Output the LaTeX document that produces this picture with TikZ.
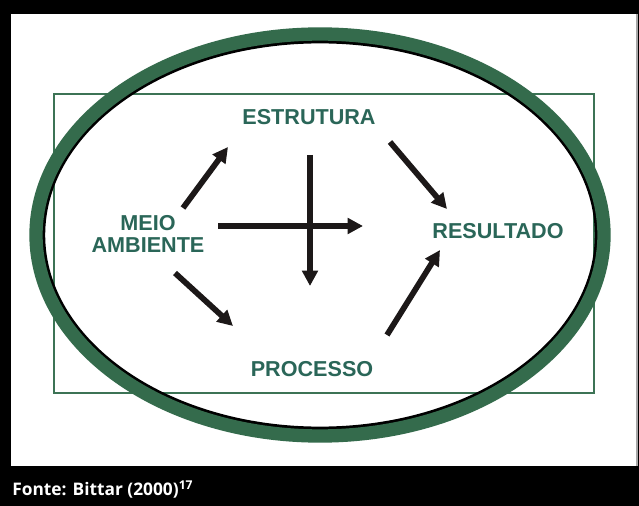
\documentclass[tikz,border=0pt]{standalone}
\usepackage{fontspec}
\setmainfont{Liberation Sans}
\newfontfamily\footfont{Open Sans}
\usetikzlibrary{arrows.meta}
\definecolor{ringgreen}{RGB}{52,107,76}
\definecolor{boxgreen}{RGB}{60,115,85}
\definecolor{labelteal}{RGB}{42,102,88}
\definecolor{arrowblack}{RGB}{28,24,24}
\tikzset{
  lbl/.style={font=\fontsize{16.2}{18.5}\selectfont\bfseries, text=labelteal, align=center, inner sep=0pt},
  flow/.style={draw=arrowblack, line width=4.3pt, -{Triangle[length=11.5pt,width=11.5pt]}},
}
\begin{document}
\begin{tikzpicture}[x=0.75pt,y=-0.75pt]
\useasboundingbox (0,0) rectangle (639,506);
\fill[black] (0,0) rectangle (639,506);
\fill[white] (11,14) rectangle (637,466);
\draw[gray!70, line width=0.9pt] (637,14) -- (637,466);
% rectangle
\draw[boxgreen, line width=1.6pt] (54,94) rectangle (594,393);
% ellipse ring
\draw[black, line width=2.6pt] (320,235) ellipse [x radius=207.4pt, y radius=145pt];
\draw[ringgreen, line width=10pt] (320,235) ellipse [x radius=213pt, y radius=150.75pt];
% labels
\node[lbl] (estr) at (309,117) {ESTRUTURA};
\node[lbl] (meio) at (148,234) {MEIO\\[-2pt]AMBIENTE};
\node[lbl] (res) at (498,231) {RESULTADO};
\node[lbl] (proc) at (312,369) {PROCESSO};
% arrow end points
\coordinate (a1s) at (183,208); \coordinate (a1e) at (228,147);
\coordinate (a2s) at (390,142); \coordinate (a2e) at (447,209);
\coordinate (a3s) at (218,226); \coordinate (a3e) at (363,226);
\coordinate (a4s) at (310,155); \coordinate (a4e) at (310,286);
\coordinate (a5s) at (175,273); \coordinate (a5e) at (233,326);
\coordinate (a6s) at (387,335); \coordinate (a6e) at (440,250);
\draw[flow] (a1s) -- (a1e);
\draw[flow] (a2s) -- (a2e);
\draw[flow] (a3s) -- (a3e);
\draw[flow] (a4s) -- (a4e);
\draw[flow] (a5s) -- (a5e);
\draw[flow] (a6s) -- (a6e);
% footer
\node[anchor=base west, inner sep=0pt, text=white, font=\footfont\fontsize{13}{15}\selectfont\bfseries] (fonte) at (12,495) {Fonte: Bittar (2000)\textsuperscript{17}};
\end{tikzpicture}
\end{document}
